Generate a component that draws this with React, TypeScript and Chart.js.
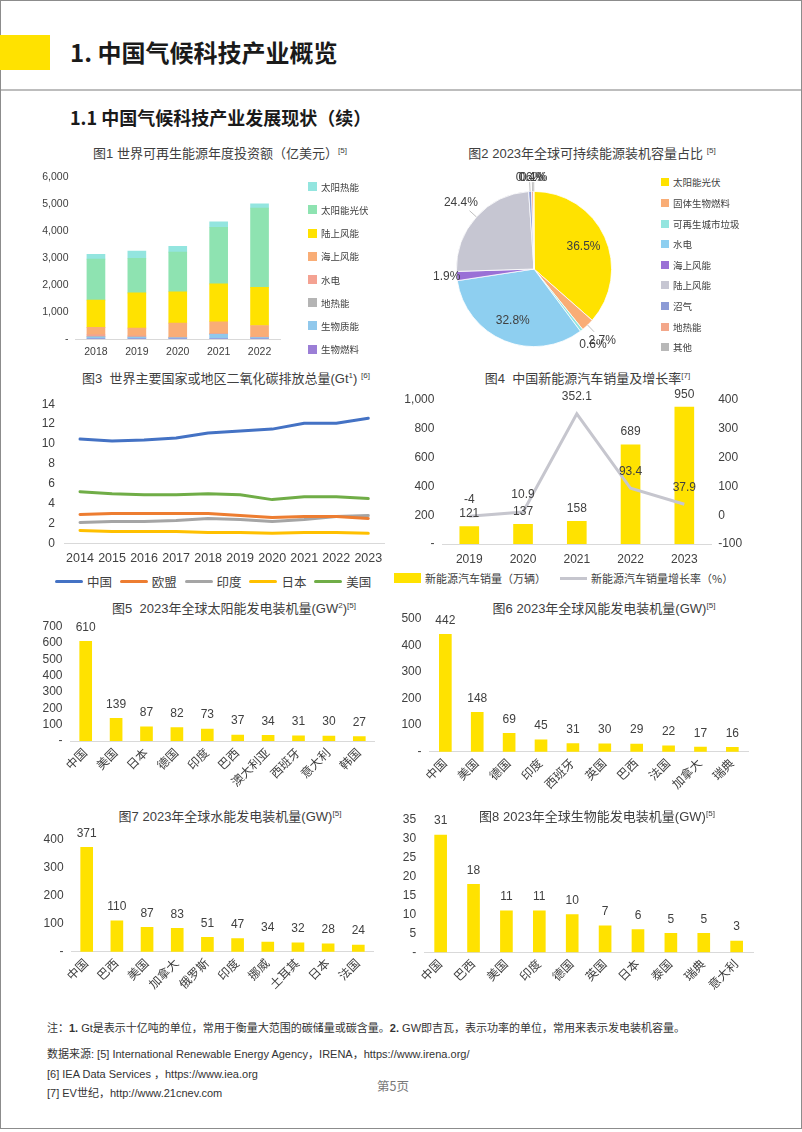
import React, { useEffect, useRef } from 'react';
import { Chart, registerables } from 'chart.js';
Chart.register(...registerables);

const FONT = '"Liberation Sans", Arial, "Noto Sans CJK SC", sans-serif';
const NARROW = '"Liberation Sans Narrow", "Liberation Sans", "Noto Sans CJK SC", sans-serif';
const CJK = '"Noto Sans CJK SC", "Liberation Sans", sans-serif';
const TXT = '#404040';
const YELLOW = '#ffe200';

Chart.defaults.font.family = FONT;
Chart.defaults.color = TXT;

// ---------- Fig1 data ----------
const fig1Years = ['2018', '2019', '2020', '2021', '2022'];
const fig1SolarThermal = [180, 270, 210, 200, 160];
const fig1SolarPV = [1520, 1280, 1470, 2100, 2940];
const fig1Onshore = [1010, 1310, 1160, 1400, 1410];
const fig1Offshore = [280, 280, 520, 440, 420];
const fig1Hydro = [60, 40, 20, 20, 20];
const fig1Geothermal = [20, 20, 10, 10, 10];
const fig1Biomass = [60, 50, 30, 160, 40];
const fig1Biofuel = [10, 10, 10, 10, 10];
const fig1Names = ['太阳热能', '太阳能光伏', '陆上风能', '海上风能', '水电', '地热能', '生物质能', '生物燃料'];
const fig1Colors = ['#93e5df', '#8ee3b1', YELLOW, '#f9ad76', '#f4a292', '#b4b4b4', '#90c8ec', '#9b7ed6'];

// ---------- Fig2 data ----------
const fig2Labels = ['太阳能光伏', '固体生物燃料', '可再生城市垃圾', '水电', '海上风能', '陆上风能', '沼气', '地热能', '其他'];
const fig2Shares = [36.5, 2.7, 0.6, 32.8, 1.9, 24.4, 0.6, 0.4, 0.1];
const fig2Colors = [YELLOW, '#f9ad76', '#93e5df', '#8ecff0', '#9a70d6', '#c6c6d2', '#8c9bd6', '#f3a78a', '#b8b8b8'];

// ---------- Fig3 data ----------
const fig3Years = ['2014', '2015', '2016', '2017', '2018', '2019', '2020', '2021', '2022', '2023'];
const fig3China = [10.5, 10.3, 10.4, 10.6, 11.1, 11.3, 11.5, 12.1, 12.1, 12.6];
const fig3EU = [2.9, 3.0, 3.0, 3.0, 3.0, 2.8, 2.6, 2.7, 2.7, 2.5];
const fig3India = [2.1, 2.2, 2.2, 2.3, 2.5, 2.4, 2.2, 2.4, 2.7, 2.8];
const fig3Japan = [1.3, 1.2, 1.2, 1.2, 1.1, 1.1, 1.0, 1.1, 1.1, 1.0];
const fig3US = [5.2, 5.0, 4.9, 4.9, 5.0, 4.9, 4.4, 4.7, 4.7, 4.5];
const fig3Names = ['中国', '欧盟', '印度', '日本', '美国'];
const fig3Colors = ['#4472c4', '#ed7d31', '#a5a5a5', '#ffc000', '#70ad47'];

// ---------- Fig4 data ----------
const fig4Years = ['2019', '2020', '2021', '2022', '2023'];
const fig4Sales = [121, 137, 158, 689, 950];
const fig4Growth = [-4, 10.9, 352.1, 93.4, 37.9];

// ---------- Fig5-8 data ----------
const fig5Countries = ['中国', '美国', '日本', '德国', '印度', '巴西', '澳大利亚', '西班牙', '意大利', '韩国'];
const fig5Values = [610, 139, 87, 82, 73, 37, 34, 31, 30, 27];
const fig6Countries = ['中国', '美国', '德国', '印度', '西班牙', '英国', '巴西', '法国', '加拿大', '瑞典'];
const fig6Values = [442, 148, 69, 45, 31, 30, 29, 22, 17, 16];
const fig7Countries = ['中国', '巴西', '美国', '加拿大', '俄罗斯', '印度', '挪威', '土耳其', '日本', '法国'];
const fig7Values = [371, 110, 87, 83, 51, 47, 34, 32, 28, 24];
const fig8Countries = ['中国', '巴西', '美国', '印度', '德国', '英国', '日本', '泰国', '瑞典', '意大利'];
const fig8Values = [31, 18, 11, 11, 10, 7, 6, 5, 5, 3];

// ---------- helpers ----------
const dashZero = (v: any) => (Number(v) === 0 ? '-' : Number(v).toLocaleString('en-US'));
const plain = (v: any) => String(v);

function yScale(w: number, min: number, max: number, step: number, fmt: any, size: number, pad: number, pos = 'left') {
  return {
    position: pos,
    min, max,
    ticks: { stepSize: step, callback: fmt, font: { size }, color: TXT, padding: pad, autoSkip: false },
    grid: { display: false, drawTicks: false },
    border: { display: false },
    afterFit: (s: any) => { s.width = w; s.paddingTop = 0; s.paddingBottom = 0; },
  };
}

function xScale(h: number, size: number, pad: number, rot = 0, stacked = false) {
  return {
    offset: true,
    stacked,
    ticks: { font: { size }, color: TXT, padding: pad, autoSkip: false, maxRotation: rot, minRotation: rot },
    grid: { display: false, drawTicks: false },
    border: { display: true, color: '#d9d9d9', width: 1 },
    afterFit: (s: any) => { s.height = h; s.paddingLeft = 0; s.paddingRight = 0; },
  };
}

function valueLabelPlugin(specs: { ds: number; offset: number; size: number }[]) {
  return {
    id: 'valueLabels',
    afterDatasetsDraw(chart: any) {
      const ctx = chart.ctx;
      specs.forEach((sp) => {
        const meta = chart.getDatasetMeta(sp.ds);
        const data = chart.data.datasets[sp.ds].data;
        meta.data.forEach((el: any, i: number) => {
          ctx.save();
          ctx.font = `${sp.size}px ${FONT}`;
          ctx.fillStyle = TXT;
          ctx.textAlign = 'center';
          ctx.textBaseline = 'middle';
          ctx.fillText(String(data[i]), el.x, el.y - sp.offset);
          ctx.restore();
        });
      });
    },
  };
}

function pieLabelPlugin(radii: number[], leaders: boolean[]) {
  return {
    id: 'pieLabels',
    afterDatasetsDraw(chart: any) {
      const ctx = chart.ctx;
      const meta = chart.getDatasetMeta(0);
      const data = chart.data.datasets[0].data;
      meta.data.forEach((arc: any, i: number) => {
        const p = arc.getProps(['x', 'y', 'startAngle', 'endAngle', 'outerRadius'], true);
        const mid = (p.startAngle + p.endAngle) / 2;
        const c = Math.cos(mid), s = Math.sin(mid);
        ctx.save();
        if (leaders[i]) {
          ctx.beginPath();
          ctx.moveTo(p.x + c * p.outerRadius, p.y + s * p.outerRadius);
          ctx.lineTo(p.x + c * p.outerRadius * 1.12, p.y + s * p.outerRadius * 1.12);
          ctx.strokeStyle = '#bfbfbf';
          ctx.lineWidth = 1;
          ctx.stroke();
        }
        ctx.font = `12px ${FONT}`;
        ctx.fillStyle = TXT;
        ctx.textAlign = 'center';
        ctx.textBaseline = 'middle';
        const k = radii[i];
        ctx.fillText(Number(data[i]).toFixed(1) + '%', p.x + c * p.outerRadius * k, p.y + s * p.outerRadius * k);
        ctx.restore();
      });
    },
  };
}

type Box = { left: number; top: number; width: number; height: number };

function ChartCanvas({ box, make }: { box: Box; make: () => any }) {
  const ref = useRef<HTMLCanvasElement>(null);
  useEffect(() => {
    const chart = new Chart(ref.current as HTMLCanvasElement, make());
    return () => chart.destroy();
  }, []);
  return (
    <div style={{ position: 'absolute', left: box.left, top: box.top, width: box.width, height: box.height }}>
      <canvas ref={ref} width={box.width} height={box.height} style={{ width: box.width, height: box.height, display: 'block' }} />
    </div>
  );
}

const baseOptions = (padding: any) => ({
  responsive: false,
  animation: false,
  devicePixelRatio: 1,
  layout: { padding, autoPadding: false },
  plugins: { legend: { display: false }, tooltip: { enabled: false } },
});

// ---------- chart configs ----------
function fig1Config() {
  const series = [fig1Biofuel, fig1Biomass, fig1Geothermal, fig1Hydro, fig1Offshore, fig1Onshore, fig1SolarPV, fig1SolarThermal];
  const names = [...fig1Names].reverse();
  const colors = [...fig1Colors].reverse();
  return {
    type: 'bar',
    data: {
      labels: fig1Years,
      datasets: series.map((d, i) => ({ label: names[i], data: d, backgroundColor: colors[i], barThickness: 18, borderWidth: 0 })),
    },
    options: {
      ...baseOptions({ left: 0, top: 12, right: 120, bottom: 0 }),
      scales: {
        x: xScale(21, 10.5, 7, 0, true),
        y: { ...yScale(45.5, 0, 6000, 1000, dashZero, 10.5, 7), stacked: true },
      },
    },
  };
}

function fig2Config() {
  return {
    type: 'pie',
    data: {
      labels: fig2Labels,
      datasets: [{ data: fig2Shares, backgroundColor: fig2Colors, borderColor: '#ffffff', borderWidth: 0.8 }],
    },
    options: {
      ...baseOptions({ left: 46, top: 31, right: 48, bottom: 13 }),
    },
    plugins: [pieLabelPlugin([0.7, 1.27, 1.24, 0.72, 1.13, 1.27, 1.18, 1.18, 1.18], [false, true, false, false, false, true, true, true, true])],
  };
}

function fig3Config() {
  const series = [fig3China, fig3EU, fig3India, fig3Japan, fig3US];
  return {
    type: 'line',
    data: {
      labels: fig3Years,
      datasets: series.map((d, i) => ({
        label: fig3Names[i], data: d, borderColor: fig3Colors[i], backgroundColor: fig3Colors[i],
        borderWidth: 3, pointRadius: 0, tension: 0, borderCapStyle: 'round', borderJoinStyle: 'round',
      })),
    },
    options: {
      ...baseOptions({ left: 0, top: 14.3, right: 370 - 354.3, bottom: 0 }),
      scales: {
        x: xScale(180 - 153.3, 12.5, 8),
        y: yScale(34, 0, 14, 2, plain, 12, 9),
      },
    },
  };
}

function fig4Config() {
  return {
    type: 'bar',
    data: {
      labels: fig4Years,
      datasets: [
        { type: 'line', label: '新能源汽车销量增长率（%）', data: fig4Growth, yAxisID: 'y1', borderColor: '#c6c6ce', borderWidth: 3, pointRadius: 0, tension: 0, order: 0 },
        { type: 'bar', label: '新能源汽车销量（万辆）', data: fig4Sales, yAxisID: 'y', backgroundColor: YELLOW, barThickness: 19, order: 1 },
      ],
    },
    options: {
      ...baseOptions({ left: 0, top: 15, right: 0, bottom: 0 }),
      scales: {
        x: xScale(180 - 159, 12, 8),
        y: yScale(42.4, 0, 1000, 200, dashZero, 12, 8),
        y1: yScale(88.8, -100, 400, 100, plain, 12, 7, 'right'),
      },
    },
    plugins: [valueLabelPlugin([{ ds: 1, offset: 13, size: 12 }, { ds: 0, offset: 17, size: 12 }])],
  };
}

function countryBarConfig(labels: string[], values: number[], box: Box, area: { l: number; t: number; r: number; b: number }, max: number, step: number) {
  return {
    type: 'bar',
    data: { labels, datasets: [{ data: values, backgroundColor: YELLOW, barThickness: 12 }] },
    options: {
      ...baseOptions({ left: 0, top: area.t, right: box.width - area.r, bottom: 0 }),
      scales: {
        x: xScale(box.height - area.b, 12, 5, 45),
        y: yScale(area.l, 0, max, step, dashZero, 12, 8),
      },
    },
    plugins: [valueLabelPlugin([{ ds: 0, offset: 14, size: 12 }])],
  };
}

const box1: Box = { left: 30, top: 165, width: 370, height: 195 };
const box2: Box = { left: 410, top: 160, width: 250, height: 200 };
const box3: Box = { left: 30, top: 390, width: 370, height: 180 };
const box4: Box = { left: 400, top: 385, width: 400, height: 180 };
const box5: Box = { left: 30, top: 615, width: 370, height: 180 };
const box6: Box = { left: 400, top: 610, width: 400, height: 185 };
const box7: Box = { left: 30, top: 825, width: 370, height: 175 };
const box8: Box = { left: 400, top: 810, width: 400, height: 190 };

const Sup = ({ children }: any) => (
  <span style={{ fontSize: '0.62em', position: 'relative', top: '-0.6em' }}>{children}</span>
);

function Title({ cx, cy, children }: { cx: number; cy: number; children: any }) {
  return (
    <div style={{ position: 'absolute', left: cx - 200, top: cy - 9, width: 400, height: 18, lineHeight: '18px', textAlign: 'center', fontSize: 13, color: TXT, fontFamily: FONT, whiteSpace: 'nowrap' }}>
      {children}
    </div>
  );
}

function SquareLegend({ x, y0, dy, names, colors, size, fontSize }: any) {
  return (
    <>
      {names.map((n: string, i: number) => (
        <div key={n} style={{ position: 'absolute', left: x, top: y0 + i * dy - 8, height: 16, display: 'flex', alignItems: 'center', whiteSpace: 'nowrap' }}>
          <span style={{ display: 'inline-block', width: size, height: size, background: colors[i], marginRight: 4 }} />
          <span style={{ fontSize, color: TXT, fontFamily: CJK }}>{n}</span>
        </div>
      ))}
    </>
  );
}

const footStyle: any = { position: 'absolute', left: 47, fontSize: 11, color: '#333', fontFamily: NARROW, whiteSpace: 'nowrap', lineHeight: '16px' };

export default function App() {
  return (
    <div style={{ position: 'absolute', left: 0, top: 0, width: 802, height: 1132, overflow: 'hidden', background: '#fff', fontFamily: FONT }}>
      <div style={{ position: 'absolute', left: 0, top: 0, width: 800, height: 1127, border: '1px solid #8c8c8c' }} />
      {/* Header */}
      <div style={{ position: 'absolute', left: 0, top: 35, width: 50, height: 35, background: YELLOW }} />
      <div style={{ position: 'absolute', left: 70, top: 36, height: 32, lineHeight: '32px', fontSize: 24, fontWeight: 700, color: '#1a1a1a', fontFamily: CJK, whiteSpace: 'nowrap' }}>
        1. 中国气候科技产业概览
      </div>
      <div style={{ position: 'absolute', left: 1, top: 89, width: 800, height: 2, background: '#bdbdbd' }} />
      <div style={{ position: 'absolute', left: 70, top: 105, height: 24, lineHeight: '24px', fontSize: 18, fontWeight: 700, color: '#1a1a1a', fontFamily: CJK, whiteSpace: 'nowrap' }}>
        1.1 中国气候科技产业发展现状（续）
      </div>

      {/* Fig1 */}
      <Title cx={220} cy={154}>图1 世界可再生能源年度投资额（亿美元）<Sup>[5]</Sup></Title>
      <ChartCanvas box={box1} make={fig1Config} />
      <SquareLegend x={308} y0={186.7} dy={23.2} names={fig1Names} colors={fig1Colors} size={9} fontSize={9.5} />

      {/* Fig2 */}
      <Title cx={592} cy={153.5}>图2 2023年全球可持续能源装机容量占比 <Sup>[5]</Sup></Title>
      <ChartCanvas box={box2} make={fig2Config} />
      <SquareLegend x={661} y0={182.3} dy={20.63} names={fig2Labels} colors={fig2Colors} size={8} fontSize={9.5} />

      {/* Fig3 */}
      <Title cx={226} cy={378.5}>图3&nbsp;&nbsp;世界主要国家或地区二氧化碳排放总量(Gt<Sup>1</Sup>) <Sup>[6]</Sup></Title>
      <ChartCanvas box={box3} make={fig3Config} />
      {fig3Names.map((n, i) => (
        <div key={n} style={{ position: 'absolute', left: 55 + i * 64.8, top: 573, height: 16, display: 'flex', alignItems: 'center', whiteSpace: 'nowrap' }}>
          <span style={{ display: 'inline-block', width: 28, height: 3, borderRadius: 1.5, background: fig3Colors[i], marginRight: 4 }} />
          <span style={{ fontSize: 12.5, color: TXT, fontFamily: CJK }}>{n}</span>
        </div>
      ))}

      {/* Fig4 */}
      <Title cx={587.5} cy={379}>图4&nbsp;&nbsp;中国新能源汽车销量及增长率<Sup>[7]</Sup></Title>
      <ChartCanvas box={box4} make={fig4Config} />
      <div style={{ position: 'absolute', left: 394, top: 570, height: 16, display: 'flex', alignItems: 'center', whiteSpace: 'nowrap' }}>
        <span style={{ display: 'inline-block', width: 27, height: 10, background: YELLOW, marginRight: 4 }} />
        <span style={{ fontSize: 11, color: TXT, fontFamily: CJK }}>新能源汽车销量（万辆）</span>
      </div>
      <div style={{ position: 'absolute', left: 560, top: 570, height: 16, display: 'flex', alignItems: 'center', whiteSpace: 'nowrap' }}>
        <span style={{ display: 'inline-block', width: 27, height: 3, background: '#c6c6ce', marginRight: 4 }} />
        <span style={{ fontSize: 11, color: TXT, fontFamily: CJK }}>新能源汽车销量增长率（%）</span>
      </div>

      {/* Fig5 */}
      <Title cx={234} cy={608.5}>图5&nbsp;&nbsp;2023年全球太阳能发电装机量(GW<Sup>2</Sup>)<Sup>[5]</Sup></Title>
      <ChartCanvas box={box5} make={() => countryBarConfig(fig5Countries, fig5Values, box5, { l: 40.5, t: 11.7, r: 344.5, b: 126 }, 700, 100)} />

      {/* Fig6 */}
      <Title cx={604} cy={608.5}>图6 2023年全球风能发电装机量(GW)<Sup>[5]</Sup></Title>
      <ChartCanvas box={box6} make={() => countryBarConfig(fig6Countries, fig6Values, box6, { l: 29.4, t: 9, r: 348.3, b: 141.7 }, 500, 100)} />

      {/* Fig7 */}
      <Title cx={230} cy={816.5}>图7 2023年全球水能发电装机量(GW)<Sup>[5]</Sup></Title>
      <ChartCanvas box={box7} make={() => countryBarConfig(fig7Countries, fig7Values, box7, { l: 41.6, t: 14.3, r: 343.4, b: 126.7 }, 400, 100)} />

      {/* Fig8 */}
      <Title cx={597} cy={816.5}>图8 2023年全球生物能发电装机量(GW)<Sup>[5]</Sup></Title>
      <ChartCanvas box={box8} make={() => countryBarConfig(fig8Countries, fig8Values, box8, { l: 24.2, t: 10, r: 353.1, b: 142.3 }, 35, 5)} />

      {/* Footer */}
      <div style={{ ...footStyle, top: 1020 }}>
        注：<b>1.</b> Gt是表示十亿吨的单位，常用于衡量大范围的碳储量或碳含量。<b>2.</b> GW即吉瓦，表示功率的单位，常用来表示发电装机容量。
      </div>
      <div style={{ ...footStyle, top: 1046 }}>
        数据来源: [5] International Renewable Energy Agency，IRENA，https://www.irena.org/
      </div>
      <div style={{ ...footStyle, top: 1066 }}>
        [6] IEA Data Services ，https://www.iea.org
      </div>
      <div style={{ ...footStyle, top: 1085 }}>
        [7] EV世纪，http://www.21cnev.com
      </div>
      <div style={{ position: 'absolute', left: 377, top: 1078, fontSize: 12.5, color: '#777', fontFamily: CJK, whiteSpace: 'nowrap', lineHeight: '16px' }}>
        第5页
      </div>
    </div>
  );
}
